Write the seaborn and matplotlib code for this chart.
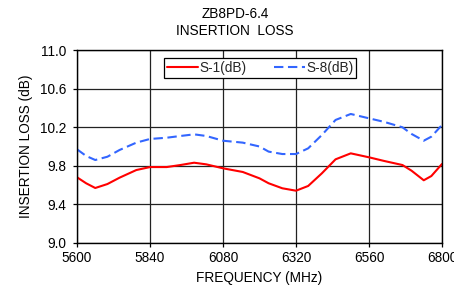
import matplotlib
matplotlib.use("Agg")
import matplotlib.pyplot as plt
import seaborn as sns
import pandas as pd

freq = [5600, 5630, 5660, 5700, 5740, 5795, 5840, 5895, 5940, 5985, 6025, 6080,
        6145, 6200, 6230, 6275, 6320, 6360, 6405, 6450, 6500, 6560, 6610, 6670,
        6700, 6740, 6765, 6800]
s1 = [9.681, 9.619, 9.570, 9.611, 9.677, 9.756, 9.787, 9.787, 9.808, 9.832, 9.815, 9.774,
      9.736, 9.670, 9.619, 9.567, 9.542, 9.591, 9.722, 9.867, 9.929, 9.888, 9.850, 9.808,
      9.749, 9.650, 9.694, 9.819]
s8 = [9.971, 9.902, 9.860, 9.894, 9.964, 10.040, 10.078, 10.091, 10.109, 10.126, 10.109, 10.060,
      10.040, 10.000, 9.947, 9.922, 9.922, 9.981, 10.119, 10.275, 10.337, 10.292, 10.255, 10.199,
      10.130, 10.060, 10.102, 10.223]
series_names = ["S-1(dB)", "S-8(dB)"]
x_ticks = [5600, 5840, 6080, 6320, 6560, 6800]
y_ticks = [9.0, 9.4, 9.8, 10.2, 10.6, 11.0]
title_lines = ["ZB8PD-6.4", "INSERTION  LOSS"]

sns.set_theme(style="white")
plt.rcParams['font.family'] = ['Liberation Sans', 'DejaVu Sans']
FS = 9.8

fig = plt.figure(figsize=(4.54, 2.96), dpi=100)
ax = fig.add_axes([77/454, 1 - 243/296, (442-77)/454, (243-50)/296])

df = pd.DataFrame({"freq": freq * 2, "val": s1 + s8,
                   "series": [series_names[0]] * len(freq) + [series_names[1]] * len(freq)})

sns.lineplot(data=df[df.series == series_names[0]], x="freq", y="val", ax=ax,
             color="#ff0000", linewidth=1.5, label=series_names[0])
sns.lineplot(data=df[df.series == series_names[1]], x="freq", y="val", ax=ax,
             color="#3366ff", linewidth=1.5, label=series_names[1], dashes=False)
ax.lines[1].set_dashes([4.5, 2.2])

ax.set_xlim(5600, 6800)
ax.set_ylim(9.0, 11.0)
ax.set_xticks(x_ticks)
ax.set_yticks(y_ticks)
ax.set_yticklabels([f"{v:.1f}" for v in y_ticks])
ax.grid(True, color="#222222", linewidth=0.9)
ax.tick_params(axis="both", direction="out", length=3, width=0.9, color="black",
               labelsize=FS, labelcolor="black")
ax.tick_params(axis="y", pad=5)
ax.tick_params(axis="x", pad=3)
ax.tick_params(axis="both", which="both", bottom=True, left=True)
for sp in ax.spines.values():
    sp.set_color("black")
    sp.set_linewidth(1.0)
ax.set_xlabel("FREQUENCY (MHz)", fontsize=FS, color="black", labelpad=4)
ax.set_ylabel("INSERTION LOSS (dB)", fontsize=FS, color="black", labelpad=5)

leg = ax.legend(loc="upper center", bbox_to_anchor=(0.502, 0.957), ncol=2,
                frameon=True, fancybox=False, fontsize=FS, handlelength=2.3,
                columnspacing=2.0, borderpad=0.2, handletextpad=0.1,
                borderaxespad=0)
leg.get_frame().set_edgecolor("black")
leg.get_frame().set_linewidth(0.9)
leg.get_frame().set_alpha(1)

fig.text(235/454, 1 - 14/296, title_lines[0], ha="center", va="center", fontsize=FS, color="black")
fig.text(235/454, 1 - 31/296, title_lines[1], ha="center", va="center", fontsize=FS, color="black")

fig.savefig("out.png", dpi=100)
